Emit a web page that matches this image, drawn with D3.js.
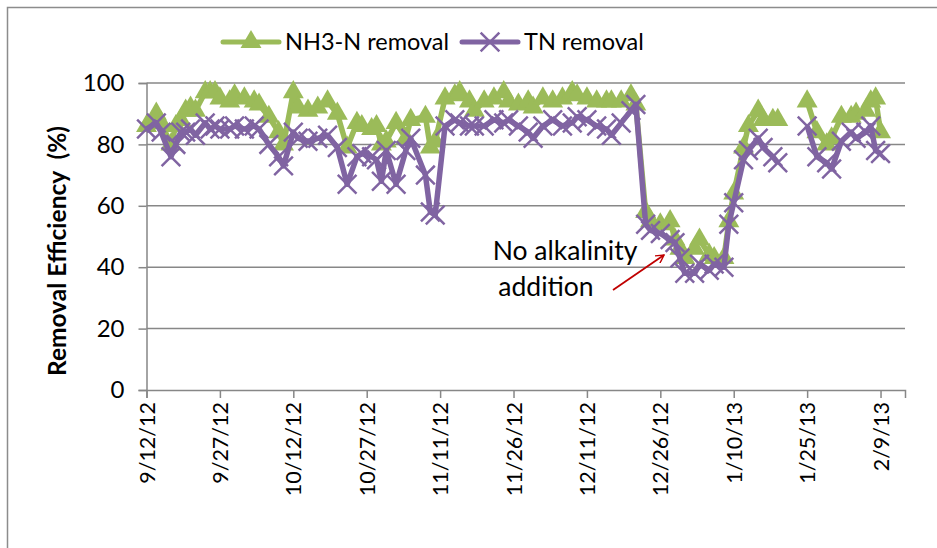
<!DOCTYPE html>
<html>
<head>
<meta charset="utf-8">
<script src="https://cdn.jsdelivr.net/npm/d3@7"></script>
<style>
  body { margin: 0; background: #fff; }
  svg { display: block; font-family: Lato, "Noto Sans", sans-serif; }
</style>
</head>
<body>
<script>
// sample dates (m/d/yy), null row marks the break in the record
var dates = ["9/12/12","9/14/12","9/15/12","9/17/12","9/18/12","9/19/12","9/20/12","9/21/12","9/22/12","9/24/12",
  "9/25/12","9/26/12","9/27/12","9/29/12","9/30/12","10/2/12","10/4/12","10/5/12","10/7/12","10/9/12",
  "10/10/12","10/12/12","10/13/12","10/15/12","10/17/12","10/19/12","10/21/12","10/23/12","10/25/12","10/26/12",
  "10/28/12","10/29/12","10/30/12","10/31/12","11/2/12","11/4/12","11/5/12","11/8/12","11/9/12","11/10/12",
  "11/12/12","11/14/12","11/15/12","11/17/12","11/18/12","11/20/12","11/22/12","11/24/12","11/25/12","11/27/12",
  "11/29/12","11/30/12","12/2/12","12/4/12","12/6/12","12/8/12","12/9/12","12/11/12","12/13/12","12/15/12",
  "12/16/12","12/18/12","12/20/12","12/21/12","12/23/12","12/24/12","12/26/12","12/28/12","12/29/12","12/30/12",
  "12/31/12","1/2/13","1/3/13","1/5/13","1/6/13","1/8/13","1/9/13","1/10/13","1/12/13","1/13/13",
  "1/15/13","1/16/13","1/18/13","1/19/13","1/22/13","1/25/13","1/27/13","1/29/13","1/30/13","2/1/13",
  "2/3/13","2/4/13","2/6/13","2/7/13","2/8/13","2/9/13"];

var nh3 = [86,90,87,80,86,88,91,92,91,97,
  97,97,95,94,96,95,94,93,89,84,
  80,97,92,91,92,94,90,79,87,86,
  85,86,80,81,87,82,88,89,79,81,
  95,96,97,94,91,94,95,97,94,93,
  94,92,95,94,95,97,96,95,94,94,
  94,94,96,93,58,55,54,55,49,46,
  43,46,49,44,43,43,55,64,79,86,
  91,88,88,88,null,94,84,80,82,89,
  89,90,91,94,95,84];

var tn = [85,87,84,76,80,84,84,85,83,87,
  85,86,85,85,86,85,86,85,80,76,
  73,84,82,81,82,83,79,67,76,77,
  76,75,68,78,67,78,82,70,58,57,
  86,88,87,86,86,86,88,87,88,86,
  84,82,86,88,86,87,89,88,86,85,
  83,87,91,93,54,52,51,49,48,43,
  38,38,41,39,41,40,54,61,75,78,
  82,79,76,74,null,86,76,74,72,81,
  84,82,84,86,78,77];

var tickLabels = ["9/12/12","9/27/12","10/12/12","10/27/12","11/11/12","11/26/12",
  "12/11/12","12/26/12","1/10/13","1/25/13","2/9/13"];
var yTicks = [0, 20, 40, 60, 80, 100];
var seriesNames = ["NH3-N removal", "TN removal"];
var colors = ["#9bbb59", "#8064a2"];

var W = 937, H = 548;
var parse = d3.timeParse("%m/%d/%y");
var fmt = d3.timeFormat("%-m/%-d/%y");

var svg = d3.select("body").append("svg").attr("width", W).attr("height", H);

// chart frame (runs off the right and bottom of the picture)
svg.append("rect").attr("x", 7.5).attr("y", 7.5).attr("width", W).attr("height", H)
  .attr("fill", "none").attr("stroke", "#8c8c8c").attr("stroke-width", 1.5);

var x = d3.scaleTime()
  .domain([parse("9/12/12"), parse("2/14/13")])
  .range([146.5, 905]);
var y = d3.scaleLinear().domain([0, 100]).range([390, 83]);

// gridlines
svg.append("g").selectAll("line").data(yTicks.slice(1)).enter().append("line")
  .attr("x1", 146.5).attr("x2", 905)
  .attr("y1", function(d) { return y(d); }).attr("y2", function(d) { return y(d); })
  .attr("stroke", "#878787").attr("stroke-width", 1.5);

var yAxis = d3.axisLeft(y).tickValues(yTicks).tickSize(8).tickPadding(14);
var gy = svg.append("g").attr("transform", "translate(146.5,0)").call(yAxis);
gy.selectAll("text").attr("font-size", 24).attr("fill", "#000").attr("font-family", "Lato");

var xAxis = d3.axisBottom(x).tickValues(tickLabels.map(parse)).tickFormat(fmt).tickSize(8).tickPadding(6);
var gx = svg.append("g").attr("transform", "translate(0,390)").call(xAxis);
gx.selectAll("text").attr("font-size", 21.5).attr("fill", "#000").attr("font-family", "Lato")
  .attr("transform", "rotate(-90)").attr("text-anchor", "end")
  .attr("x", -12).attr("y", 0).attr("dy", "0.35em");

svg.selectAll(".domain, .tick line").attr("stroke", "#878787").attr("stroke-width", 1.5);

// axis title
svg.append("text").attr("transform", "translate(57,251) rotate(-90)")
  .attr("text-anchor", "middle").attr("dy", "0.35em").attr("font-size", 24.5).attr("font-weight", "bold")
  .attr("xml:space", "preserve")
  .text("Removal Efficiency  (%)");

var pts = dates.map(function(d, i) { return { date: parse(d), v: [nh3[i], tn[i]] }; });

var tri = d3.symbol().type(d3.symbolTriangle).size(190);
var cross = d3.symbol().type(d3.symbolX).size(230);

[0, 1].forEach(function(s) {
  var line = d3.line()
    .defined(function(d) { return d.v[s] != null; })
    .x(function(d) { return x(d.date); })
    .y(function(d) { return y(d.v[s]); });
  svg.append("path").attr("d", line(pts)).attr("fill", "none")
    .attr("stroke", colors[s]).attr("stroke-width", 5.5).attr("stroke-linejoin", "round");
  var good = pts.filter(function(d) { return d.v[s] != null; });
  svg.append("g").selectAll("path").data(good).enter().append("path")
    .attr("transform", function(d) { return "translate(" + x(d.date) + "," + y(d.v[s]) + ")"; })
    .attr("d", s === 0 ? tri : cross)
    .attr("fill", s === 0 ? colors[0] : "none")
    .attr("stroke", colors[s]).attr("stroke-width", s === 0 ? 0 : 2.5);
});

// legend
var legend = [{ x: 223, name: seriesNames[0] }, { x: 462, name: seriesNames[1] }];
legend.forEach(function(l, s) {
  var g = svg.append("g").attr("transform", "translate(" + l.x + ",42)");
  g.append("line").attr("x1", 0).attr("x2", 56).attr("stroke", colors[s])
    .attr("stroke-width", 5).attr("stroke-linecap", "round");
  g.append("path").attr("transform", "translate(28,0)").attr("d", s === 0 ? tri : cross)
    .attr("fill", s === 0 ? colors[0] : "none").attr("stroke", colors[s]).attr("stroke-width", s === 0 ? 0 : 2.5);
  g.append("text").attr("x", 62).attr("dy", "0.35em").attr("font-size", 23.5).text(l.name);
});

// annotation
var note = svg.append("text").attr("font-size", 26.5).attr("text-anchor", "middle");
note.append("tspan").attr("x", 565).attr("y", 260).text("No alkalinity");
note.append("tspan").attr("x", 546).attr("y", 296).text("addition");

svg.append("defs").append("marker").attr("id", "arrow")
  .attr("viewBox", "0 0 10 10").attr("refX", 9).attr("refY", 5)
  .attr("markerWidth", 5).attr("markerHeight", 5).attr("orient", "auto")
  .append("path").attr("d", "M0,0 L9,5 L0,10").attr("fill", "none")
  .attr("stroke", "#c00000").attr("stroke-width", 1.6);
svg.append("line").attr("x1", 613).attr("y1", 290).attr("x2", 664).attr("y2", 255)
  .attr("stroke", "#c00000").attr("stroke-width", 1.8).attr("marker-end", "url(#arrow)");
</script>
</body>
</html>
